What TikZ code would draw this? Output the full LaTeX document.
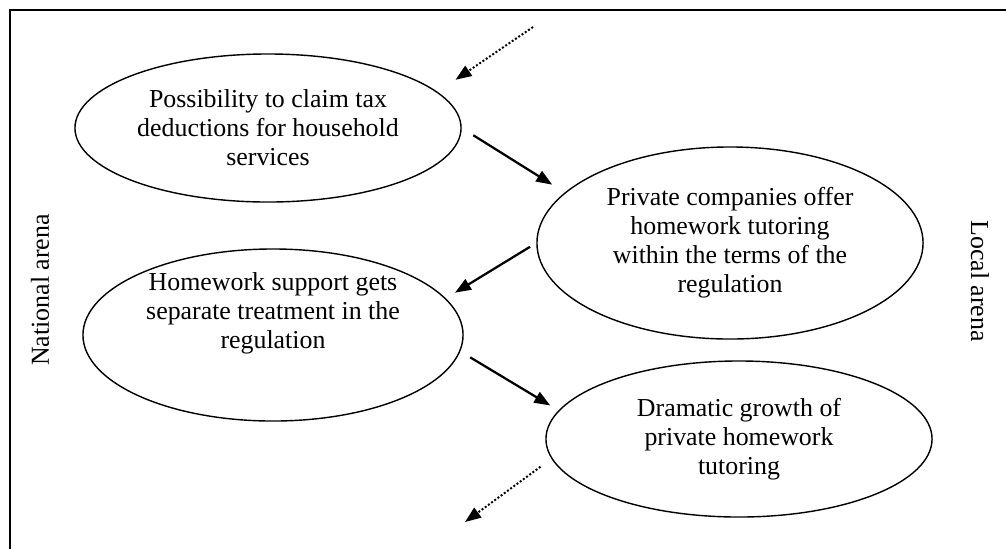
\documentclass[tikz,border=0pt]{standalone}
\usepackage{fontspec}
\setmainfont{Liberation Serif}
\usetikzlibrary{shapes.geometric}
\usetikzlibrary{arrows.meta}

\begin{document}
\begin{tikzpicture}[
    x=0.025cm,
    y=-0.025cm,
    oval/.style={
        draw,
        ellipse,
        line width=1pt,
        inner sep=0pt,
        align=center,
        minimum width=9.65cm,
        font=\fontsize{18.4}{20.6}\selectfont
    },
    arrow/.style={
        ->,
        >={Triangle[length=0.4cm,width=0.3cm]},
        line width=1.6pt
    },
    dotarrow/.style={
        ->,
        >={Triangle[length=0.4cm,width=0.3cm]},
        line width=1.4pt,
        dash pattern=on 1.4pt off 1.4pt
    },
    arena/.style={
        font=\fontsize{18.4}{20.6}\selectfont
    }
]

    \useasboundingbox (0,0) rectangle (1006,549);

    % frame
    \draw[line width=2pt] (10,549) -- (10,10) -- (1006,10);

    \node[oval,minimum height=3.7cm] (e1) at (268,128)
    {
        Possibility to claim tax\\
        deductions for household\\
        services
    };

    \node[oval,minimum height=4.8cm] (e2) at (730,243)
    {
        Private companies offer\\
        homework tutoring\\
        within the terms of the\\
        regulation
    };

    \node[oval,minimum width=9.5cm,minimum height=4.3cm,
        label={[align=center,font=\fontsize{18.4}{20.6}\selectfont,yshift=0.55cm]center:{Homework support gets\\separate treatment in the\\regulation}}]
    (e3) at (273,335) {};

    \node[oval,minimum height=3.9cm] (e4) at (739,439)
    {
        Dramatic growth of\\
        private homework\\
        tutoring
    };

    \node[arena,rotate=90] (national) at (40,290) {National arena};
    \node[arena,rotate=-90] (local) at (980,281) {Local arena};

    \coordinate (in1) at (533,27);
    \coordinate (out1) at (465,522);

    \draw[arrow,shorten <=0.34cm,shorten >=0.37cm]
    (e1.east) -- (e2.163);

    \draw[arrow,shorten <=0.18cm,shorten >=0.27cm]
    (e2.west) -- (e3.12);

    \draw[arrow,shorten <=0.29cm,shorten >=0.24cm]
    (e3.-5) -- (e4.171.5);

    \draw[dotarrow,shorten >=0.54cm]
    (in1) -- (e1.12);

    \draw[dotarrow,shorten <=0.34cm]
    (e4.186.4) -- (out1);

\end{tikzpicture}
\end{document}
